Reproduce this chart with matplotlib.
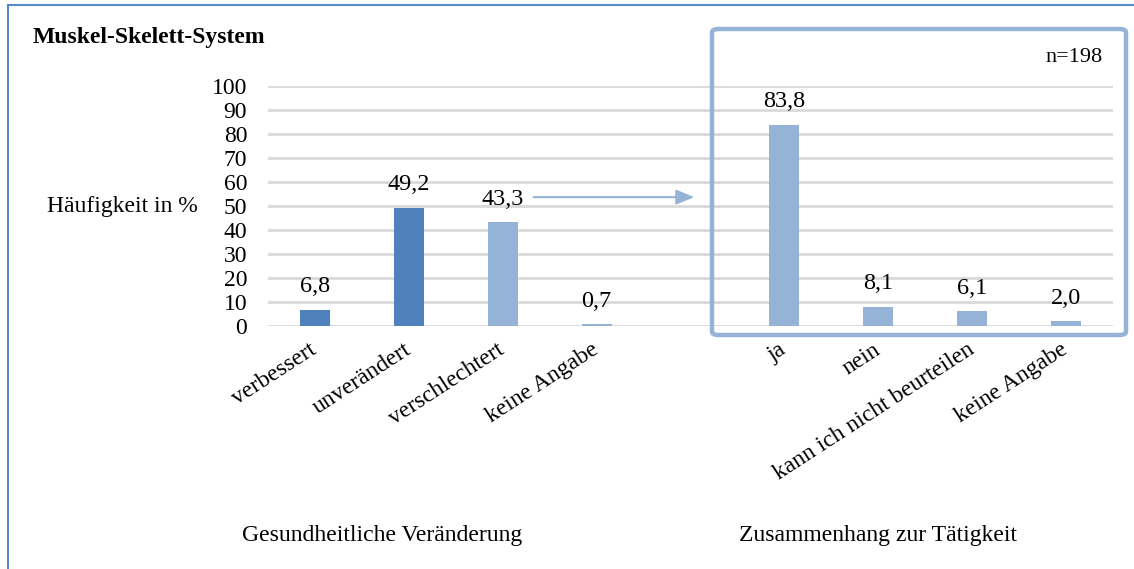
import matplotlib
matplotlib.use("Agg")
import matplotlib.pyplot as plt
from matplotlib.patches import FancyBboxPatch
from matplotlib.lines import Line2D
import numpy as np

plt.rcParams['font.family'] = ['Liberation Serif', 'DejaVu Serif']

# Data
title = 'Muskel-Skelett-System'
left_cats = ['verbessert', 'unverändert', 'verschlechtert', 'keine Angabe']
left_vals = [6.8, 49.2, 43.3, 0.7]
left_colors = ['#4F81BD', '#4F81BD', '#95B3D7', '#95B3D7']
right_cats = ['ja', 'nein', 'kann ich nicht beurteilen', 'keine Angabe']
right_vals = [83.8, 8.1, 6.1, 2.0]
right_color = '#95B3D7'
left_group = 'Gesundheitliche Veränderung'
right_group = 'Zusammenhang zur Tätigkeit'
yticks = list(range(0, 101, 10))

W, H = 1134, 569
fig = plt.figure(figsize=(W / 100, H / 100), dpi=100)
ax = fig.add_axes([268 / W, 1 - 326 / H, (1113 - 268) / W, (326 - 86) / H])

lx = np.arange(len(left_cats))
rx = np.arange(len(right_cats)) + len(left_cats) + 1
bw = 0.32

ax.bar(lx, left_vals, width=bw, color=left_colors, zorder=3)
ax.bar(rx, right_vals, width=bw, color=right_color, zorder=3)

for x, v in list(zip(lx, left_vals)) + list(zip(rx, right_vals)):
    ax.annotate(f'{v:.1f}'.replace('.', ','), (x, v), xytext=(0, 9),
                textcoords='offset points', ha='center', va='bottom', fontsize=17.5)

ax.set_xlim(-0.5, 8.5)
ax.set_ylim(0, 100)
ax.set_yticks(yticks)
ax.yaxis.grid(True, color='#D9D9D9', linewidth=2, zorder=0)
ax.set_axisbelow(True)
ax.tick_params(axis='y', length=0, labelsize=17, pad=15)
ax.tick_params(axis='x', length=0, labelsize=17, pad=16)
ax.set_xticks(list(lx) + list(rx))
ax.set_xticklabels(left_cats + right_cats, rotation=33, ha='right', va='center',
                   rotation_mode='anchor')
for s in ax.spines.values():
    s.set_visible(False)

# arrow from left to right group
ax.annotate('', xy=(4.07, 53.7), xytext=(2.3, 53.7),
            arrowprops=dict(arrowstyle='-|>,head_length=1.1,head_width=0.45',
                            color='#95B3D7', lw=1.5))

fig.text(33 / W, 1 - 37 / H, title, fontsize=17, fontweight='bold', va='center')
fig.text(47 / W, 1 - 207 / H, 'Häufigkeit in %', fontsize=17, va='center')
fig.text(1103 / W, 1 - 58 / H, 'n=198', fontsize=16, va='center', ha='right')
fig.text(382 / W, 1 - 536 / H, left_group, fontsize=17, va='center', ha='center')
fig.text(878 / W, 1 - 536 / H, right_group, fontsize=17, va='center', ha='center')

# highlight box
box = FancyBboxPatch((712 / W, 1 - 335 / H), (1126 - 712) / W, (335 - 29) / H,
                     boxstyle='round,pad=0,rounding_size=0.006',
                     transform=fig.transFigure, fill=False,
                     edgecolor='#95B3D7', linewidth=3.2, zorder=10)
fig.patches.append(box)

# outer frame
fig.add_artist(Line2D([8 / W, 8 / W], [0, 1 - 5 / H], color='#5B8ACB', lw=1.5))
fig.add_artist(Line2D([8 / W, 1], [1 - 5 / H, 1 - 5 / H], color='#5B8ACB', lw=1.5))

fig.savefig('out.png', dpi=100)
